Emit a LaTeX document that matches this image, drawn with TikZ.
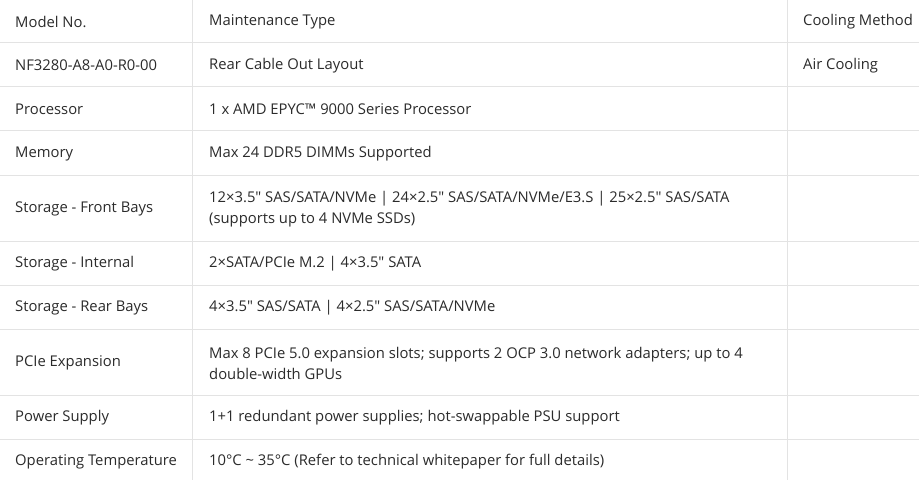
\documentclass[tikz,border=0pt]{standalone}
\usepackage{fontspec}
\setmainfont[Ligatures=TeXOff]{Open Sans}
\definecolor{txt}{HTML}{2B2B2B}
\definecolor{rule}{HTML}{E3E3E3}
\tikzset{
  cell/.style={anchor=west, inner sep=0pt, text=txt, align=left,
    font=\fontsize{14.8}{21}\selectfont},
  gridline/.style={draw=rule, line width=1pt}
}
\begin{document}
\begin{tikzpicture}[x=1pt,y=-1pt]
\useasboundingbox[fill=white] (0,0) rectangle (919,480);
% horizontal rules
\foreach \y in {42.5,86.5,130.5,175,241,285,329,395,439}
  \draw[gridline] (0,\y) -- (919,\y);
% vertical rules
\draw[gridline] (192.5,0) -- (192.5,480);
\draw[gridline] (787,0) -- (787,480);
% column 1
\node[cell] (a1) at (15,21.5) {Model No.};
\node[cell] (a2) at (15,65.5) {NF3280-A8-A0-R0-00};
\node[cell] (a3) at (15,109.5) {Processor};
\node[cell] (a4) at (15,154) {Memory};
\node[cell] (a5) at (15,209) {Storage - Front Bays};
\node[cell] (a6) at (15,264) {Storage - Internal};
\node[cell] (a7) at (15,308) {Storage - Rear Bays};
\node[cell] (a8) at (15,363) {PCIe Expansion};
\node[cell] (a9) at (15,418) {Power Supply};
\node[cell] (a10) at (15,462) {Operating Temperature};
% column 2
\node[cell] (b1) at (209,21.5) {Maintenance Type};
\node[cell] (b2) at (209,65.5) {Rear Cable Out Layout};
\node[cell] (b3) at (209,109.5) {1 x AMD EPYC™ 9000 Series Processor};
\node[cell] (b4) at (209,154) {Max 24 DDR5 DIMMs Supported};
\node[cell] (b5) at (209,209) {12×3.5" SAS/SATA/NVMe | 24×2.5" SAS/SATA/NVMe/E3.S | 25×2.5" SAS/SATA\\(supports up to 4 NVMe SSDs)};
\node[cell] (b6) at (209,264) {2×SATA/PCIe M.2 | 4×3.5" SATA};
\node[cell] (b7) at (209,308) {4×3.5" SAS/SATA | 4×2.5" SAS/SATA/NVMe};
\node[cell] (b8) at (209,363) {Max 8 PCIe 5.0 expansion slots; supports 2 OCP 3.0 network adapters; up to 4\\double-width GPUs};
\node[cell] (b9) at (209,418) {1+1 redundant power supplies; hot-swappable PSU support};
\node[cell] (b10) at (209,462) {10°C \textasciitilde{} 35°C (Refer to technical whitepaper for full details)};
% column 3
\node[cell] (c1) at (803,21.5) {Cooling Method};
\node[cell] (c2) at (803,65.5) {Air Cooling};
\end{tikzpicture}
\end{document}
